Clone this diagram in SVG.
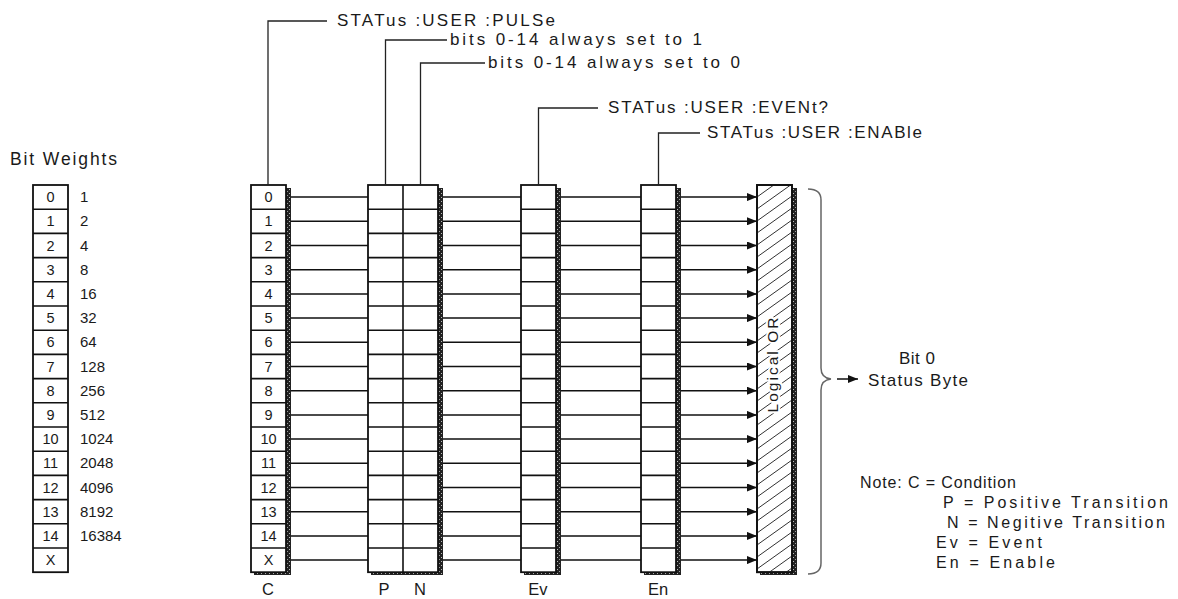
<svg xmlns="http://www.w3.org/2000/svg" width="1178" height="599" viewBox="0 0 1178 599">
<style>
text { font-family: "Liberation Sans", Arial, sans-serif; fill: #1a1a1a; }
.lbl { font-size: 17px; }
.dig { font-size: 14.5px; text-anchor: middle; }
.num { font-size: 15px; }
.col { font-size: 16.5px; text-anchor: middle; }
.box { fill: #fff; stroke: #111; stroke-width: 1.8; }
.shd { fill: url(#stip); }
.lead { fill: none; stroke: #222; stroke-width: 1.3; }
.con { stroke: #111; stroke-width: 1.5; fill: none; }
.arr { stroke: #111; stroke-width: 1.5; marker-end: url(#ah); }
</style>
<defs>
<pattern id="stip" width="4" height="4" patternUnits="userSpaceOnUse">
<rect width="4" height="4" fill="#222"/>
<rect x="1" y="1" width="1" height="1" fill="#bbb"/>
<rect x="3" y="3" width="1" height="1" fill="#999"/>
</pattern>
<marker id="ah" markerUnits="userSpaceOnUse" markerWidth="10" markerHeight="8" refX="10" refY="4" orient="auto">
<path d="M0 0 L10 4 L0 8 z" fill="#111"/>
</marker>
<path id="seps" d="M0 209.2h35M0 233.4h35M0 257.6h35M0 281.8h35M0 306h35M0 330.2h35M0 354.4h35M0 378.6h35M0 402.8h35M0 427h35M0 451.2h35M0 475.4h35M0 499.6h35M0 523.8h35M0 548h35"/>
<clipPath id="orclip"><rect x="757" y="185" width="35" height="387.2"/></clipPath>
</defs>

<g id="bit-weights">
<text x="10" y="165" font-size="17.5" textLength="107" lengthAdjust="spacing">Bit Weights</text>
<rect class="box" x="33" y="185" width="35" height="387.2"/>
<use href="#seps" x="33" stroke="#111" stroke-width="1.6" fill="none"/>
<g class="dig">
<text x="50.5" y="202.1">0</text><text x="50.5" y="226.3">1</text><text x="50.5" y="250.5">2</text><text x="50.5" y="274.7">3</text>
<text x="50.5" y="298.9">4</text><text x="50.5" y="323.1">5</text><text x="50.5" y="347.3">6</text><text x="50.5" y="371.5">7</text>
<text x="50.5" y="395.7">8</text><text x="50.5" y="419.9">9</text><text x="50.5" y="444.1">10</text><text x="50.5" y="468.3">11</text>
<text x="50.5" y="492.5">12</text><text x="50.5" y="516.7">13</text><text x="50.5" y="540.9">14</text><text x="50.5" y="565.1">X</text>
</g>
<g class="num">
<text x="80" y="202.1">1</text><text x="80" y="226.3">2</text><text x="80" y="250.5">4</text><text x="80" y="274.7">8</text>
<text x="80" y="298.9">16</text><text x="80" y="323.1">32</text><text x="80" y="347.3">64</text><text x="80" y="371.5">128</text>
<text x="80" y="395.7">256</text><text x="80" y="419.9">512</text><text x="80" y="444.1">1024</text><text x="80" y="468.3">2048</text>
<text x="80" y="492.5">4096</text><text x="80" y="516.7">8192</text><text x="80" y="540.9">16384</text>
</g>
</g>

<g id="reg-C">
<rect class="shd" x="286" y="188" width="5" height="387"/>
<rect class="shd" x="254" y="572" width="37" height="3"/>
<rect class="box" x="251" y="185" width="35" height="387.2"/>
<use href="#seps" x="251" stroke="#111" stroke-width="1.6" fill="none"/>
<g class="dig">
<text x="268.5" y="202.1">0</text><text x="268.5" y="226.3">1</text><text x="268.5" y="250.5">2</text><text x="268.5" y="274.7">3</text>
<text x="268.5" y="298.9">4</text><text x="268.5" y="323.1">5</text><text x="268.5" y="347.3">6</text><text x="268.5" y="371.5">7</text>
<text x="268.5" y="395.7">8</text><text x="268.5" y="419.9">9</text><text x="268.5" y="444.1">10</text><text x="268.5" y="468.3">11</text>
<text x="268.5" y="492.5">12</text><text x="268.5" y="516.7">13</text><text x="268.5" y="540.9">14</text><text x="268.5" y="565.1">X</text>
</g>
<text class="col" x="268" y="595">C</text>
</g>

<g id="reg-PN">
<rect class="shd" x="438" y="188" width="5" height="387"/>
<rect class="shd" x="371" y="572" width="72" height="3"/>
<rect class="box" x="368" y="185" width="70" height="387.2"/>
<line x1="403" y1="185" x2="403" y2="572.2" stroke="#111" stroke-width="1.6"/>
<use href="#seps" x="368" stroke="#111" stroke-width="1.6" fill="none"/>
<use href="#seps" x="403" stroke="#111" stroke-width="1.6" fill="none"/>
<text class="col" x="384" y="595">P</text>
<text class="col" x="420" y="595">N</text>
</g>

<g id="reg-Ev">
<rect class="shd" x="556" y="188" width="5" height="387"/>
<rect class="shd" x="524" y="572" width="37" height="3"/>
<rect class="box" x="521" y="185" width="35" height="387.2"/>
<use href="#seps" x="521" stroke="#111" stroke-width="1.6" fill="none"/>
<text class="col" x="538" y="595">Ev</text>
</g>

<g id="reg-En">
<rect class="shd" x="676" y="188" width="5" height="387"/>
<rect class="shd" x="644" y="572" width="37" height="3"/>
<rect class="box" x="641" y="185" width="35" height="387.2"/>
<use href="#seps" x="641" stroke="#111" stroke-width="1.6" fill="none"/>
<text class="col" x="658" y="595">En</text>
</g>

<g id="logical-or">
<rect class="shd" x="792" y="188" width="5" height="387"/>
<rect class="shd" x="760" y="572" width="37" height="3"/>
<rect class="box" x="757" y="185" width="35" height="387.2"/>
<path clip-path="url(#orclip)" fill="none" stroke="#333" stroke-width="1" d="M757 185l35 -25M757 197l35 -25M757 209l35 -25M757 221l35 -25M757 233l35 -25M757 245l35 -25M757 257l35 -25M757 269l35 -25M757 281l35 -25M757 293l35 -25M757 305l35 -25M757 317l35 -25M757 329l35 -25M757 341l35 -25M757 353l35 -25M757 365l35 -25M757 377l35 -25M757 389l35 -25M757 401l35 -25M757 413l35 -25M757 425l35 -25M757 437l35 -25M757 449l35 -25M757 461l35 -25M757 473l35 -25M757 485l35 -25M757 497l35 -25M757 509l35 -25M757 521l35 -25M757 533l35 -25M757 545l35 -25M757 557l35 -25M757 569l35 -25M757 581l35 -25M757 593l35 -25"/>
<rect x="757" y="185" width="35" height="387.2" fill="none" stroke="#111" stroke-width="1.8"/>
<text transform="translate(778 365) rotate(-90)" x="0" y="0" font-size="15.5" text-anchor="middle" textLength="95" lengthAdjust="spacing" stroke="#fff" stroke-width="4" paint-order="stroke">Logical OR</text>
</g>

<g id="labels">
<path class="lead" d="M268 185V21H327"/>
<text class="lbl" x="337" y="26" textLength="218" lengthAdjust="spacing">STATus :USER :PULSe</text>
<path class="lead" d="M385.5 185V40H447"/>
<text class="lbl" x="450" y="45" textLength="252" lengthAdjust="spacing">bits 0-14 always set to 1</text>
<path class="lead" d="M420.5 185V63H485"/>
<text class="lbl" x="488" y="68" textLength="252" lengthAdjust="spacing">bits 0-14 always set to 0</text>
<path class="lead" d="M538.5 185V108H598"/>
<text class="lbl" x="608" y="113" textLength="220" lengthAdjust="spacing">STATus :USER :EVENt?</text>
<path class="lead" d="M658.5 185V133H700"/>
<text class="lbl" x="707" y="138" textLength="215" lengthAdjust="spacing">STATus :USER :ENABle</text>
</g>

<g id="connectors">
<path class="con" d="M291 197.1H368M443 197.1H521M561 197.1H641M291 221.3H368M443 221.3H521M561 221.3H641M291 245.5H368M443 245.5H521M561 245.5H641M291 269.7H368M443 269.7H521M561 269.7H641M291 293.9H368M443 293.9H521M561 293.9H641M291 318.1H368M443 318.1H521M561 318.1H641M291 342.3H368M443 342.3H521M561 342.3H641M291 366.5H368M443 366.5H521M561 366.5H641M291 390.7H368M443 390.7H521M561 390.7H641M291 414.9H368M443 414.9H521M561 414.9H641M291 439.1H368M443 439.1H521M561 439.1H641M291 463.3H368M443 463.3H521M561 463.3H641M291 487.5H368M443 487.5H521M561 487.5H641M291 511.7H368M443 511.7H521M561 511.7H641M291 535.9H368M443 535.9H521M561 535.9H641M291 560.1H368M443 560.1H521M561 560.1H641"/>
<line class="arr" x1="681" y1="197.1" x2="757" y2="197.1"/>
<line class="arr" x1="681" y1="221.3" x2="757" y2="221.3"/>
<line class="arr" x1="681" y1="245.5" x2="757" y2="245.5"/>
<line class="arr" x1="681" y1="269.7" x2="757" y2="269.7"/>
<line class="arr" x1="681" y1="293.9" x2="757" y2="293.9"/>
<line class="arr" x1="681" y1="318.1" x2="757" y2="318.1"/>
<line class="arr" x1="681" y1="342.3" x2="757" y2="342.3"/>
<line class="arr" x1="681" y1="366.5" x2="757" y2="366.5"/>
<line class="arr" x1="681" y1="390.7" x2="757" y2="390.7"/>
<line class="arr" x1="681" y1="414.9" x2="757" y2="414.9"/>
<line class="arr" x1="681" y1="439.1" x2="757" y2="439.1"/>
<line class="arr" x1="681" y1="463.3" x2="757" y2="463.3"/>
<line class="arr" x1="681" y1="487.5" x2="757" y2="487.5"/>
<line class="arr" x1="681" y1="511.7" x2="757" y2="511.7"/>
<line class="arr" x1="681" y1="535.9" x2="757" y2="535.9"/>
<line class="arr" x1="681" y1="560.1" x2="757" y2="560.1"/>
<path d="M808 189Q821 189 821 200V368Q821 378 831 379Q821 380 821 390V563Q821 574 808 574" fill="none" stroke="#666" stroke-width="1.5"/>
<line class="arr" x1="837" y1="379" x2="858" y2="379"/>
</g>

<g id="status-byte">
<text class="lbl" x="899" y="364" textLength="36" lengthAdjust="spacing">Bit 0</text>
<text class="lbl" x="868" y="386" textLength="100" lengthAdjust="spacing">Status Byte</text>
</g>

<g id="note" font-size="16">
<text x="860" y="488" textLength="156" lengthAdjust="spacing">Note: C = Condition</text>
<text x="943" y="508" textLength="225" lengthAdjust="spacing">P = Positive Transition</text>
<text x="947" y="528" textLength="218" lengthAdjust="spacing">N = Negitive Transition</text>
<text x="936" y="548" textLength="106" lengthAdjust="spacing">Ev = Event</text>
<text x="936" y="568" textLength="119" lengthAdjust="spacing">En = Enable</text>
</g>
</svg>
